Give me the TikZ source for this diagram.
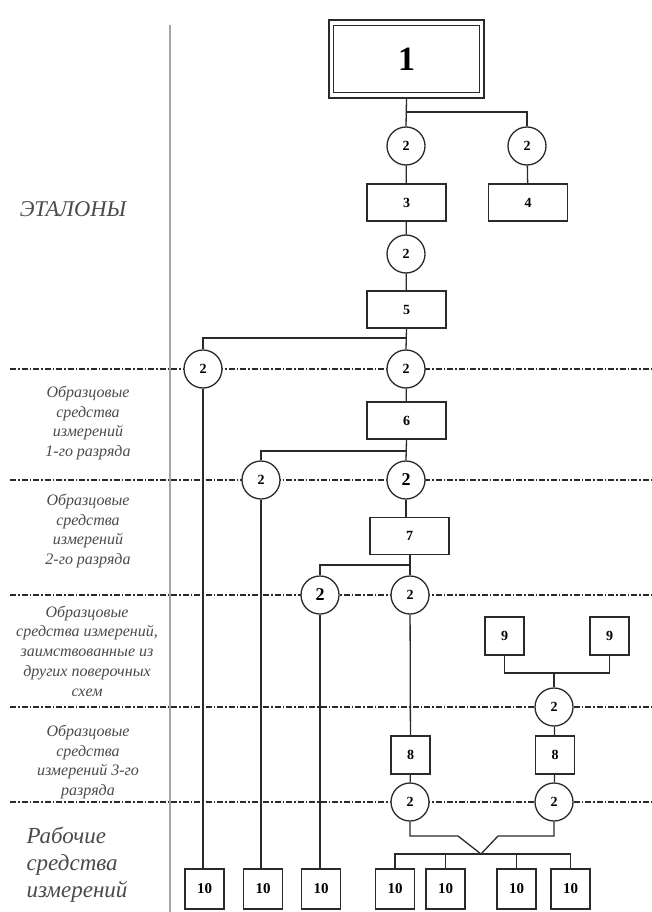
\documentclass[tikz,border=0pt]{standalone}
\usepackage{fontspec}
\setmainfont{Liberation Serif}
\usetikzlibrary{calc}
\definecolor{lblgray}{HTML}{4A4A4A}
\definecolor{ink}{HTML}{2A2A2A}
\begin{document}
\begin{tikzpicture}[x=1pt,y=-1pt,
  conn/.style={line width=1.3pt,draw=ink},
  sepline/.style={line width=1.8pt,draw=ink,dash pattern=on 6pt off 2pt on 1.5pt off 2pt},
  bx/.style={draw=ink,line width=1.3pt,fill=white,inner sep=0pt,font=\bfseries\fontsize{14}{14}\selectfont},
  midbox/.style={bx,minimum width=79pt,minimum height=37pt},
  smallbox/.style={bx,minimum width=39pt,minimum height=38pt},
  tenbox/.style={bx,minimum width=39pt,minimum height=40pt,font=\bfseries\fontsize{15}{15}\selectfont},
  circ/.style={draw=ink,circle,line width=1.3pt,fill=white,minimum size=38pt,inner sep=0pt,font=\bfseries\fontsize{14}{14}\selectfont},
  bigtwo/.style={font=\bfseries\fontsize{18}{18}\selectfont},
  lbl/.style={text=lblgray,align=center,font=\itshape\fontsize{16}{19.7}\selectfont},
]
\useasboundingbox (0,0) rectangle (651,912);
% vertical divider
\draw[gray!70,line width=2pt] (170,25) -- (170,912);
% separators
\foreach \yy/\nm in {369/s1,480/s2,595/s3,707/s4,802/s5}{
  \coordinate (\nm L) at (10,\yy);
  \coordinate (\nm R) at (651,\yy);
  \draw[sepline] (\nm L) -- (\nm R);
}
% labels
\node[text=lblgray,font=\itshape\fontsize{22.5}{22.5}\selectfont] (lE) at (73,209) {ЭТАЛОНЫ};
\node[lbl] (lA) at (88,423) {Образцовые\\средства\\измерений\\1-го разряда};
\node[lbl] (lB) at (88,531) {Образцовые\\средства\\измерений\\2-го разряда};
\node[lbl] (lC) at (87,651) {Образцовые\\средства измерений,\\заимствованные из\\других поверочных\\схем};
\node[lbl] (lD) at (88,762) {Образцовые\\средства\\измерений 3-го\\разряда};
\node[text=lblgray,align=left,anchor=west,font=\itshape\fontsize{23}{27}\selectfont] (lW) at (23,865) {Рабочие\\средства\\измерений};
% box 1
\node[draw=ink,line width=2.4pt,minimum width=155pt,minimum height=78pt,inner sep=0pt,font=\bfseries\fontsize{34}{34}\selectfont] (b1) at (406.5,59) {1};
\draw[ink,line width=0.9pt] ([shift={(6pt,-7pt)}]b1.north west) rectangle ([shift={(-6pt,7pt)}]b1.south east);
% top part
\node[circ] (c1a) at (406,146) {2};
\node[circ] (c1b) at (527,146) {2};
\node[midbox] (b3) at (406.5,202.5) {3};
\node[midbox] (b4) at (528,202.5) {4};
\node[circ] (c2) at (406,254) {2};
\node[midbox] (b5) at (406.5,309.5) {5};
\coordinate (j1) at (406,112);
\draw[conn] (b1.south) -- (c1a.north);
\draw[conn] (j1) -| (c1b.north);
\draw[conn] (c1a) -- (b3);
\draw[conn] (c1b) -- (b4);
\draw[conn] (b3) -- (c2);
\draw[conn] (c2) -- (b5);
% level 1
\node[circ] (c3a) at (203,369) {2};
\node[circ] (c3b) at (406,369) {2};
\coordinate (j3) at (406,338);
\draw[conn] (b5.south) -- (c3b.north);
\draw[conn] (j3) -| (c3a.north);
\node[midbox] (b6) at (406.5,420.5) {6};
\draw[conn] (c3b) -- (b6);
% level 2
\node[circ] (c4a) at (261,480) {2};
\node[circ,bigtwo] (c4b) at (406,480) {2};
\coordinate (j4) at (406,451);
\draw[conn] (b6.south) -- (c4b.north);
\draw[conn] (j4) -| (c4a.north);
\node[midbox] (b7) at (409.5,536) {7};
\draw[conn] (c4b.south) -- (c4b.south |- b7.north);
% level 3
\node[circ,bigtwo] (c5a) at (320,595) {2};
\node[circ] (c5b) at (410,595) {2};
\coordinate (j5) at (410,565);
\draw[conn] (b7.south -| c5b) -- (c5b.north);
\draw[conn] (j5) -| (c5a.north);
% borrowed
\node[smallbox] (b9a) at (504.5,636) {9};
\node[smallbox] (b9b) at (609.5,636) {9};
\node[circ] (c6) at (554,707) {2};
\coordinate (j6) at (554,673);
\draw[conn] (b9a.south) |- (j6) -| (b9b.south);
\draw[conn] (j6) -- (c6.north);
% level 3 boxes
\node[smallbox] (b8a) at (410.5,755) {8};
\node[smallbox] (b8b) at (555,755) {8};
\draw[conn] (c5b) -- (b8a);
\draw[conn] (c6) -- (b8b);
\node[circ] (c7a) at (410,802) {2};
\node[circ] (c7b) at (554,802) {2};
\draw[conn] (b8a) -- (c7a);
\draw[conn] (b8b) -- (c7b);
% working instruments
\node[tenbox] (t1) at (204.5,889) {10};
\node[tenbox] (t2) at (263,889) {10};
\node[tenbox] (t3) at (321,889) {10};
\node[tenbox] (t4) at (395,889) {10};
\node[tenbox] (t5) at (445.5,889) {10};
\node[tenbox] (t6) at (516.5,889) {10};
\node[tenbox] (t7) at (570.5,889) {10};
\draw[conn] (c3a.south) -- (c3a.south |- t1.north);
\draw[conn] (c4a.south) -- (c4a.south |- t2.north);
\draw[conn] (c5a.south) -- (c5a.south |- t3.north);
\coordinate (v) at (481,854);
\coordinate (k1) at (458,836);
\coordinate (k2) at (498,836);
\draw[conn] (c7a.south) |- (k1) -- (v) -- (k2) -| (c7b.south);
\draw[conn] (t4.north) |- (v) -| (t7.north);
\draw[conn] (t5.north) -- (t5.north |- v);
\draw[conn] (t6.north) -- (t6.north |- v);
\end{tikzpicture}
\end{document}
